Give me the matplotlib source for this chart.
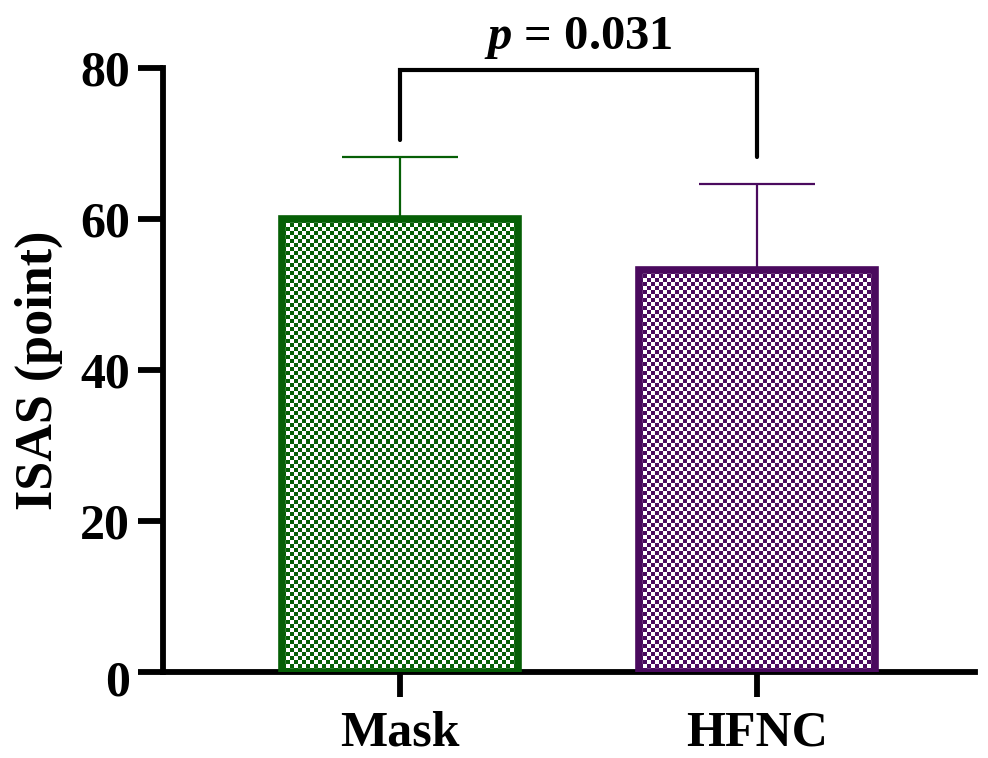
import numpy as np
import matplotlib
matplotlib.use("Agg")
import matplotlib.pyplot as plt
from matplotlib.colors import ListedColormap
import matplotlib.transforms as mtransforms

categories = ["Mask", "HFNC"]
means = [60.0, 53.2]
sds = [8.2, 11.4]
colors = ["#065f06", "#4a0a5e"]
p_text = "$\\bfit{p}$ = 0.031"
yticks = [0, 20, 40, 60, 80]

plt.rcParams['font.family'] = ['Liberation Serif', 'DejaVu Serif']
plt.rcParams['font.weight'] = 'bold'
plt.rcParams['mathtext.fontset'] = 'custom'
plt.rcParams['mathtext.bfit'] = 'Liberation Serif:italic:bold'
plt.rcParams['mathtext.it'] = 'Liberation Serif:italic:bold'
plt.rcParams['mathtext.bf'] = 'Liberation Serif:bold'
plt.rcParams['mathtext.rm'] = 'Liberation Serif:bold'

fig = plt.figure(figsize=(9.88, 7.58), dpi=100)
ax = fig.add_axes([0.165, 0.1135, 0.822, 0.7965])

x = np.arange(len(categories))
width = 0.66
for xi, m, s, c in zip(x, means, sds, colors):
    ax.errorbar(xi, m, yerr=[[0], [s]], fmt='none', ecolor=c, elinewidth=1.6,
                capsize=42, capthick=1.6, zorder=2)
bars = ax.bar(x, means, width=width, facecolor='none', edgecolor=colors,
              linewidth=5.5, zorder=3)

ax.set_xlim(-0.664, 1.61)
ax.set_ylim(0, 80)
ax.set_yticks(yticks)
ax.set_xticks(x)
ax.set_xticklabels(categories)
ax.set_ylabel("ISAS (point)", fontsize=37.5, fontweight='bold', labelpad=12)

for sp in ['top', 'right']:
    ax.spines[sp].set_visible(False)
for sp in ['left', 'bottom']:
    ax.spines[sp].set_linewidth(4.2)
ax.tick_params(axis='both', width=4.2, length=18, labelsize=36, pad=6)
ax.tick_params(axis='x', pad=10)

# shift 0 label down slightly
for lbl in ax.get_yticklabels():
    if lbl.get_text() == '0':
        lbl.set_transform(lbl.get_transform() + mtransforms.ScaledTranslation(0, -6/100, fig.dpi_scale_trans))

fig.canvas.draw()
# checkerboard fill clipped to bars
cell = 4.0
for b, c in zip(bars, colors):
    x0, y0 = b.get_x(), b.get_y()
    w, h = b.get_width(), b.get_height()
    p0 = ax.transData.transform((x0, y0))
    p1 = ax.transData.transform((x0 + w, y0 + h))
    nx = max(1, int(round(abs(p1[0] - p0[0]) / cell)))
    ny = max(1, int(round(abs(p1[1] - p0[1]) / cell)))
    board = (np.add.outer(np.arange(ny), np.arange(nx)) % 2)
    im = ax.imshow(board, cmap=ListedColormap(['white', c]), extent=(x0, x0 + w, y0, y0 + h),
                   interpolation='nearest', aspect='auto', zorder=2.5, origin='lower')
    im.set_clip_path(b)

ax.set_xlim(-0.664, 1.61)
ax.set_ylim(0, 80)

# significance bracket
y_top = 79.7
ax.plot([0, 0, 1, 1], [70.5, y_top, y_top, 68.3], color='black', lw=3, clip_on=False,
        solid_capstyle='round', solid_joinstyle='miter')
ax.text(0.5, 82.6, p_text, ha='center', va='baseline', fontsize=35, fontweight='bold')

fig.savefig("out.png", dpi=100)
